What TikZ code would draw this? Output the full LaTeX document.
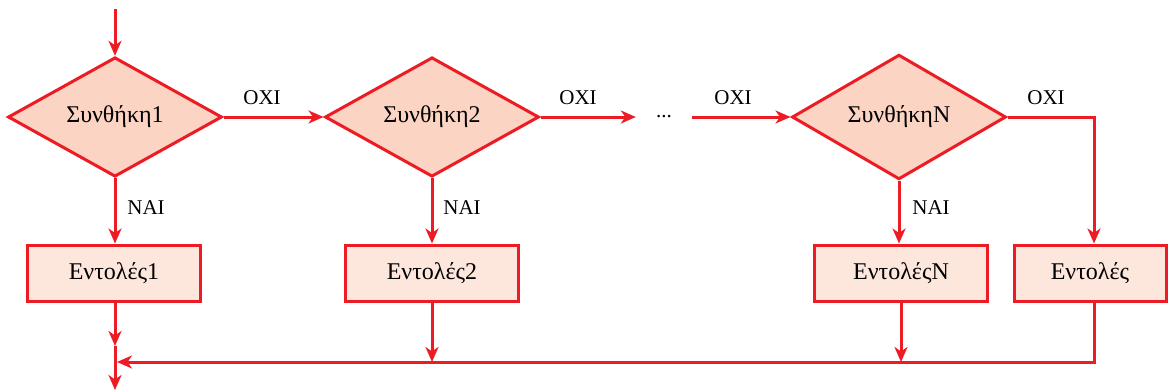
\documentclass[tikz,border=0pt]{standalone}
\usepackage{fontspec}
\setmainfont{Liberation Serif}
\usetikzlibrary{shapes.geometric,arrows.meta}
\definecolor{lred}{RGB}{237,28,36}
\definecolor{dfill}{RGB}{251,212,195}
\definecolor{bfill}{RGB}{253,231,221}
\begin{document}
\begin{tikzpicture}[x=1pt,y=-1pt,
  every node/.style={font=\fontsize{21}{25}\selectfont},
  cond/.style={diamond,draw=lred,fill=dfill,line width=3pt,inner sep=0pt,
    minimum width=214pt,minimum height=116pt,font=\fontsize{24}{28}\selectfont},
  cmdbox/.style={rectangle,draw=lred,fill=bfill,line width=3pt,inner sep=0pt,
    minimum width=173pt,minimum height=56pt,font=\fontsize{24}{28}\selectfont},
  flow/.style={draw=lred,line width=3pt,-{Stealth[length=15pt,width=13pt,inset=4.5pt]}},
  lbl/.style={inner sep=0pt}]
\useasboundingbox (0,0) rectangle (1168,391);
\coordinate (start) at (115,9);
\node[cond] (d1) at (115,117) {Συνθήκη1};
\node[cond] (d2) at (432,117) {Συνθήκη2};
\node[minimum width=56pt,inner sep=0pt] (dots) at (664,117) {...};
\node[cond] (dN) at (899,117) {ΣυνθήκηN};
\node[cmdbox] (b1) at (114,273) {Εντολές1};
\node[cmdbox] (b2) at (432,273) {Εντολές2};
\node[cmdbox] (bN) at (901,273) {ΕντολέςN};
\node[cmdbox,minimum width=152pt] (bE) at (1090,273) {Εντολές};
\coordinate (j1) at (115,346);
\coordinate (out) at (115,390);
\coordinate (jin) at (117,362);
\coordinate (m2) at (432,362);
\coordinate (mN) at (901,362);
\draw[flow] (start) -- (d1.north);
\draw[flow] (d1.east) -- (d2.west);
\draw[flow] (d2.east) -- (dots.west);
\draw[flow] (dots.east) -- (dN.west);
\draw[flow] (dN.east) -| (bE.north -| 1094,0);
\draw[flow] (d1.south) -- (b1.north -| d1.south);
\draw[flow] (d2.south) -- (b2.north);
\draw[flow] (dN.south) -- (bN.north -| dN.south);
\draw[flow] (b1.south -| j1) -- (j1);
\draw[flow] (j1) -- (out);
\draw[flow] (bE.south -| 1094,0) |- (jin);
\draw[flow] (b2.south) -- (m2);
\draw[flow] (bN.south) -- (mN);
\node[lbl] (o1) at (262,98) {OXI};
\node[lbl] (o2) at (578,98) {OXI};
\node[lbl] (o3) at (733,98) {OXI};
\node[lbl] (o4) at (1046,98) {OXI};
\node[lbl] (n1) at (146,208) {NAI};
\node[lbl] (n2) at (462,208) {NAI};
\node[lbl] (n3) at (931,208) {NAI};
\end{tikzpicture}
\end{document}
